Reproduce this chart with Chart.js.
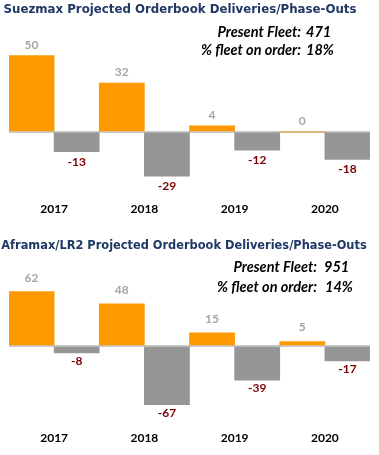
<!DOCTYPE html>
<html>
<head>
<meta charset="utf-8">
<script src="https://cdn.jsdelivr.net/npm/chart.js@4"></script>
<style>
  body { margin: 0; width: 379px; height: 455px; background: #fff; position: relative; overflow: hidden; }
  .blok { position: absolute; left: 0; width: 379px; }
  .baslik { position: absolute; left: 0; width: 360px; text-align: center;
            font: bold 11.8px "DejaVu Sans", sans-serif; color: #1F3864; white-space: nowrap; }
  .not { position: absolute; font: italic bold 14.5px Lato, sans-serif; color: #000; white-space: nowrap; line-height: 18px; }
  .not.sol { text-align: right; }
  canvas { position: absolute; left: 0; top: 0; }
</style>
</head>
<body>

<div class="blok" style="top:0;height:230px">
  <canvas id="suezmax" width="379" height="230"></canvas>
  <div class="baslik" style="top:2px">Suezmax Projected Orderbook Deliveries/Phase-Outs</div>
  <div class="not sol" style="right:78px;top:23px">Present Fleet:</div>
  <div class="not" style="left:306px;top:23px">471</div>
  <div class="not sol" style="right:78px;top:41px">% fleet on order:</div>
  <div class="not" style="left:306px;top:41px">18%</div>
</div>

<div class="blok" style="top:230px;height:225px">
  <canvas id="aframax" width="379" height="225"></canvas>
  <div class="baslik" style="top:8px;width:368px;font-size:11.4px">Aframax/LR2 Projected Orderbook Deliveries/Phase-Outs</div>
  <div class="not sol" style="right:62px;top:28px">Present Fleet:</div>
  <div class="not" style="left:324px;top:28px">951</div>
  <div class="not sol" style="right:62px;top:48px">% fleet on order:</div>
  <div class="not" style="left:325px;top:48px">14%</div>
</div>

<script>
// ---- veriler ----
const YILLAR = ["2017", "2018", "2019", "2020"];

const suezmaxTeslimat = [50, 32, 4, 0];
const suezmaxHurda    = [-13, -29, -12, -18];

const aframaxTeslimat = [62, 48, 15, 5];
const aframaxHurda    = [-8, -67, -39, -17];

const TURUNCU = "#FF9900";
const GRI = "#969696";

// bar uçlarına değer etiketi yazan küçük eklenti
const degerEtiketi = {
  id: "degerEtiketi",
  afterDatasetsDraw(chart, args, opts) {
    const ctx = chart.ctx;
    ctx.save();
    ctx.font = "bold 12px Lato, sans-serif";
    ctx.textAlign = "center";
    ctx.textBaseline = "middle";
    chart.data.datasets.forEach((ds, i) => {
      chart.getDatasetMeta(i).data.forEach((bar, j) => {
        const v = ds.data[j];
        if (v >= 0) {
          ctx.fillStyle = "#A6A6A6";
          ctx.fillText(String(v), bar.x, bar.y - opts.ust);
        } else {
          ctx.fillStyle = "#7B0000";
          ctx.fillText(String(v), bar.x, bar.y + opts.alt);
        }
      });
    });
    ctx.restore();
  }
};

function grafikKur(id, teslimat, hurda, ymin, ymax, altBosluk, ust, alt) {
  return new Chart(document.getElementById(id), {
    type: "bar",
    data: {
      labels: YILLAR,
      datasets: [
        { data: teslimat, backgroundColor: TURUNCU, categoryPercentage: 1, barPercentage: 1 },
        { data: hurda, backgroundColor: GRI, categoryPercentage: 1, barPercentage: 1 },
      ]
    },
    options: {
      responsive: false,
      animation: false,
      layout: { padding: { left: 9, right: 9, top: 48, bottom: altBosluk } },
      plugins: { legend: { display: false }, tooltip: { enabled: false }, degerEtiketi: { ust, alt } },
      scales: {
        x: {
          grid: { display: false, drawTicks: false },
          border: { display: false },
          ticks: { color: "#000", font: { family: "Lato", weight: "bold", size: 12 }, padding: 9 }
        },
        y: {
          min: ymin, max: ymax,
          afterBuildTicks: s => { s.ticks = [{ value: 0 }]; },
          ticks: { display: false },
          border: { display: false },
          grid: { drawTicks: false, lineWidth: 2, color: c => c.tick && c.tick.value === 0 ? "#C8C8C8" : "transparent" }
        }
      }
    },
    plugins: [degerEtiketi]
  });
}

grafikKur("suezmax", suezmaxTeslimat, suezmaxHurda, -40, 55, 4.6, 11, 10);
grafikKur("aframax", aframaxTeslimat, aframaxHurda, -86.8, 77.6, 0.6, 14, 8);
</script>
</body>
</html>
